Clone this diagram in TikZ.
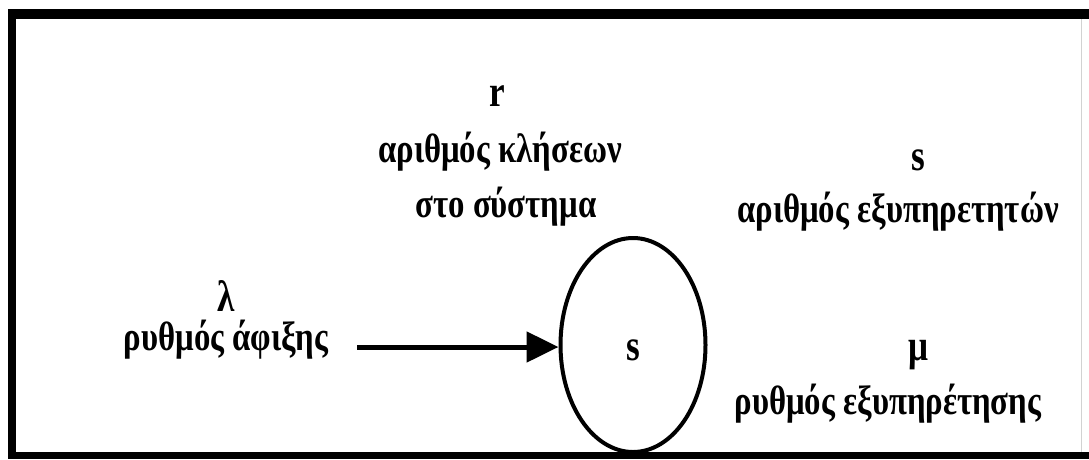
\documentclass[tikz,border=0pt]{standalone}
\usepackage{fontspec}
\setmainfont{Liberation Serif}
\newfontfamily\cond{Liberation Serif}[FakeStretch=0.80]
\usetikzlibrary{arrows.meta,shapes.geometric}
\tikzset{
  lbl/.style={inner sep=0pt, font=\cond\fontsize{41}{44}\selectfont\bfseries},
  sym/.style={inner sep=0pt, font=\cond\fontsize{44}{46}\selectfont\bfseries},
  bar/.style={fill=black, draw=none},
}
\begin{document}
\begin{tikzpicture}[x=1pt,y=-1pt]
\useasboundingbox (0,0) rectangle (1089,459);
% frame
\fill[bar] (8,9) rectangle (1089,19);
\fill[bar] (8,9) rectangle (16,459);
\fill[bar] (8,452) rectangle (1089,459);
\draw[gray!35, line width=1pt] (1081,19) -- (1081,452);
% server
\node[draw, line width=4pt, ellipse, minimum width=145pt, minimum height=214pt, inner sep=0pt] (srv) at (633,345) {};
\node[sym] (sin) at (633,350) {s};
% arrival
\node[sym] (lam) at (226,296) {λ};
\node[lbl] (arr) at (226,340) {ρυθμός άφιξης};
\coordinate (astart) at (357,347);
\draw[line width=5pt, -{Triangle[length=32pt,width=30pt]}] (astart) -- (srv.west |- astart);
% r
\node[sym] (r) at (497,96) {r};
\node[lbl] (r1) at (500,152) {αριθμός κλήσεων};
\node[lbl] (r2) at (506,207) {στο σύστημα};
% s
\node[sym] (s) at (918,160) {s};
\node[lbl] (s1) at (898,212) {αριθμός εξυπηρετητών};
% mu
\node[sym] (mu) at (918,355) {μ};
\node[lbl] (m1) at (888,404) {ρυθμός εξυπηρέτησης};
\end{tikzpicture}
\end{document}
